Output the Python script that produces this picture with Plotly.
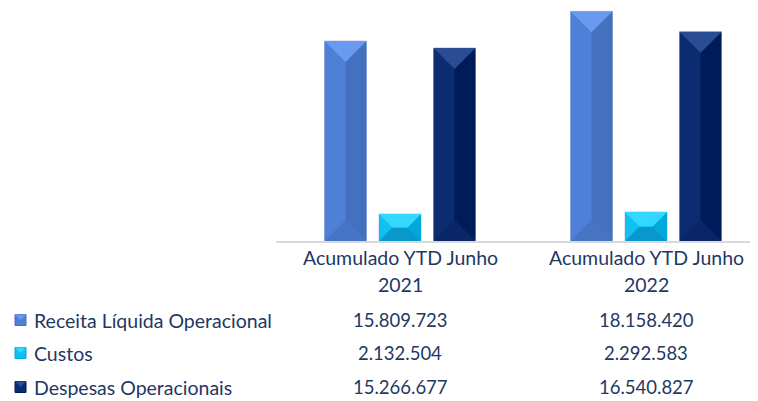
import plotly.graph_objects as go

categories = ["Acumulado YTD Junho 2021", "Acumulado YTD Junho 2022"]
cat_line1 = ["Acumulado YTD Junho", "Acumulado YTD Junho"]
cat_line2 = ["2021", "2022"]
series_names = ["Receita Líquida Operacional", "Custos", "Despesas Operacionais"]
receita = [15809723, 18158420]
custos = [2132504, 2292583]
despesas = [15266677, 16540827]
series_values = [receita, custos, despesas]

# bevel face colours per series: left, right, top, bottom
face_left = ["#4F80D8", "#10C0F0", "#0C2C72"]
face_right = ["#4470C0", "#00A8DC", "#001C58"]
face_top = ["#6A9AF0", "#34D8FF", "#2A4C94"]
face_bottom = ["#4874C6", "#0898CC", "#0A2668"]
txt_color = "#1F3864"
FONT = "Lato"

# geometry (pixels per category unit / per value unit)
PX_X = 246.0
PX_Y = 12.65e-6
bar_w = 42 / PX_X
offsets = [-75.5 / PX_X, -21 / PX_X, 33.5 / PX_X]

fig = go.Figure()
xs = list(range(len(categories)))
for i, (name, vals) in enumerate(zip(series_names, series_values)):
    # base bar (hover + outline)
    fig.add_trace(go.Bar(x=xs, y=vals, name=name, width=bar_w, offset=offsets[i],
                         marker=dict(color=face_left[i], line=dict(color="#C0CADF", width=1)),
                         showlegend=False))
    faces = {"left": ([], []), "right": ([], []), "top": ([], []), "bottom": ([], [])}
    for j in xs:
        xl = j + offsets[i]
        xr = xl + bar_w
        yt = vals[j]
        d_px = min(bar_w * PX_X / 2, yt * PX_Y / 2)
        dx = d_px / PX_X
        dy = d_px / PX_Y
        polys = {
            "top": [(xl, yt), (xr, yt), (xr - dx, yt - dy), (xl + dx, yt - dy)],
            "bottom": [(xl, 0), (xr, 0), (xr - dx, dy), (xl + dx, dy)],
            "left": [(xl, 0), (xl, yt), (xl + dx, yt - dy), (xl + dx, dy)],
            "right": [(xr, 0), (xr, yt), (xr - dx, yt - dy), (xr - dx, dy)],
        }
        for k, pts in polys.items():
            fx, fy = faces[k]
            fx.extend([p[0] for p in pts] + [pts[0][0], None])
            fy.extend([p[1] for p in pts] + [pts[0][1], None])
    colmap = {"left": face_left[i], "right": face_right[i], "top": face_top[i], "bottom": face_bottom[i]}
    for k in ["left", "right", "bottom", "top"]:
        fx, fy = faces[k]
        fig.add_trace(go.Scatter(x=fx, y=fy, mode="lines", fill="toself", fillcolor=colmap[k],
                                 line=dict(width=0, color=colmap[k]), hoverinfo="skip",
                                 showlegend=False))

annotations = []
# page has an 8px body margin; coordinates below are page pixels
W = 482.0
H = 233.0
def py(p):
    return (241 - p) / H
def px(p):
    return (p - 276) / W

for j in xs:
    annotations.append(dict(x=j, y=py(258), xref="x", yref="paper", text=cat_line1[j],
                            showarrow=False, yanchor="middle", xanchor="center"))
    annotations.append(dict(x=j, y=py(284), xref="x", yref="paper", text=cat_line2[j],
                            showarrow=False, yanchor="middle", xanchor="center"))

row_y = [320, 353, 387]
shapes = []
for i, (name, vals) in enumerate(zip(series_names, series_values)):
    annotations.append(dict(x=px(32), y=py(row_y[i]), xref="paper", yref="paper", text=name,
                            showarrow=False, yanchor="middle", xanchor="left"))
    for j in xs:
        annotations.append(dict(x=j, y=py(row_y[i]), xref="x", yref="paper",
                                text=f"{vals[j]:,}".replace(",", "."),
                                font=dict(size=18.5),
                                showarrow=False, yanchor="middle", xanchor="center"))
    x0, x1 = px(15), px(26)
    y0, y1 = py(row_y[i] + 5.5), py(row_y[i] - 5.5)
    shapes.append(dict(type="rect", xref="paper", yref="paper",
                       x0=x0, x1=x1, y0=y0, y1=y1,
                       fillcolor=face_left[i], line=dict(color=face_right[i], width=1)))
    xm = (x0 + x1) / 2
    ym = (y0 + y1) / 2
    shapes.append(dict(type="path", xref="paper", yref="paper",
                       path=f"M {x0},{y1} L {x1},{y1} L {xm},{ym} Z",
                       fillcolor=face_top[i], line=dict(width=0)))

fig.update_layout(
    width=750, height=393,
    margin=dict(l=268, r=0, t=0, b=160),
    paper_bgcolor="white", plot_bgcolor="white",
    barmode="overlay",
    font=dict(family=FONT, size=19.5, color=txt_color),
    xaxis=dict(range=[-124 / 246, 1 + 112 / 246], showticklabels=False, showgrid=False,
               zeroline=False, showline=True, linecolor="#D9D9D9", linewidth=2, fixedrange=True),
    yaxis=dict(range=[0, H / PX_Y], visible=False, showgrid=False, zeroline=False),
    annotations=annotations,
    shapes=shapes,
)

fig.write_html("out.html")
